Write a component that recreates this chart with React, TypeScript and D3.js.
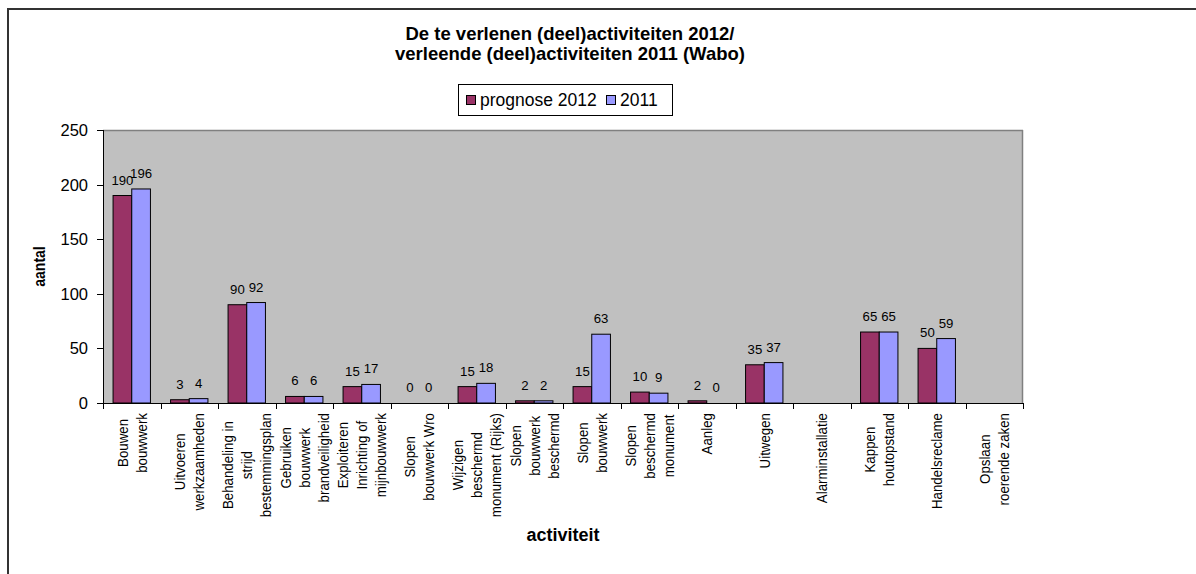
import React, { useMemo } from "react";
import * as d3 from "d3";

const categories: string[][] = [
  ["Bouwen", "bouwwerk"],
  ["Uitvoeren", "werkzaamheden"],
  ["Behandeling in", "strijd", "bestemmingsplan"],
  ["Gebruiken", "bouwwerk", "brandveiligheid"],
  ["Exploiteren", "Inrichting of", "mijnbouwwerk"],
  ["Slopen", "bouwwerk Wro"],
  ["Wijzigen", "beschermd", "monument (Rijks)"],
  ["Slopen", "bouwwerk", "beschermd"],
  ["Slopen", "bouwwerk"],
  ["Slopen", "beschermd", "monument"],
  ["Aanleg"],
  ["Uitwegen"],
  ["Alarminstallatie"],
  ["Kappen", "houtopstand"],
  ["Handelsreclame"],
  ["Opslaan", "roerende zaken"],
];
const prognose2012: (number | null)[] = [190, 3, 90, 6, 15, 0, 15, 2, 15, 10, 2, 35, null, 65, 50, null];
const values2011: (number | null)[] = [196, 4, 92, 6, 17, 0, 18, 2, 63, 9, 0, 37, null, 65, 59, null];
const seriesNames = ["prognose 2012", "2011"];
const seriesColors = ["#993366", "#9999FF"];
const yTicks = [0, 50, 100, 150, 200, 250];
const titleLines = ["De te verlenen (deel)activiteiten 2012/", "verleende (deel)activiteiten 2011 (Wabo)"];

const W = 1196;
const H = 574;
const FONT = "'Liberation Sans', Arial, sans-serif";

export default function App() {
  const plot = { left: 103, right: 1023, top: 130, bottom: 403 };
  const x0 = d3
    .scaleBand<number>()
    .domain(categories.map((_, i) => i))
    .range([plot.left, plot.right])
    .paddingInner(0.35)
    .paddingOuter(0.175);
  const x1 = d3.scaleBand<number>().domain([0, 1]).range([0, x0.bandwidth()]);
  const y = d3.scaleLinear().domain([0, 250]).range([plot.bottom, plot.top]);
  const step = x0.step();

  const catFont = 13.3;
  const measure = useMemo(() => {
    const c = document.createElement("canvas").getContext("2d")!;
    c.font = `${catFont}px ${FONT}`;
    return (s: string) => c.measureText(s).width;
  }, []);

  const series = [prognose2012, values2011];
  const lineGap = 19;

  return (
    <svg
      width={W}
      height={H}
      style={{ position: "absolute", left: 0, top: 0, background: "#fff" }}
      fontFamily={FONT}
    >
      {/* outer chart frame */}
      <rect x={8} y={9} width={1400} height={800} fill="#fff" stroke="#333" strokeWidth={2} />

      {/* title */}
      {titleLines.map((t, i) => (
        <text key={i} x={570} y={40 + i * 19.5} textAnchor="middle" fontWeight="bold" fontSize={18.5} fill="#000">
          {t}
        </text>
      ))}

      {/* legend */}
      <g>
        <rect x={458.5} y={84.5} width={214} height={31} fill="#fff" stroke="#000" strokeWidth={1} />
        {seriesNames.map((n, i) => {
          const lx = i === 0 ? 466 : 606;
          return (
            <g key={n}>
              <rect x={lx + 0.5} y={95.5} width={9} height={9} fill={seriesColors[i]} stroke="#000" strokeWidth={1} />
              <text x={lx + 14} y={106} fontSize={17.5} fill="#000">
                {n}
              </text>
            </g>
          );
        })}
      </g>

      {/* plot area */}
      <rect x={plot.left} y={plot.top} width={plot.right - plot.left} height={plot.bottom - plot.top} fill="#C0C0C0" />
      <line x1={plot.left} x2={plot.right} y1={plot.top + 0.5} y2={plot.top + 0.5} stroke="#808080" strokeWidth={1.5} />
      <line x1={plot.right - 0.5} x2={plot.right - 0.5} y1={plot.top} y2={plot.bottom} stroke="#808080" strokeWidth={1.5} />

      {/* bars */}
      {categories.map((_, ci) =>
        series.map((s, si) => {
          const v = s[ci];
          if (v === null) return null;
          const bx = (x0(ci) as number) + (x1(si) as number);
          const bw = x1.bandwidth();
          return (
            <rect
              key={`${ci}-${si}`}
              x={bx}
              y={y(v)}
              width={bw}
              height={y(0) - y(v)}
              fill={seriesColors[si]}
              stroke="#000"
              strokeWidth={1}
            />
          );
        })
      )}

      {/* data labels */}
      {categories.map((_, ci) =>
        series.map((s, si) => {
          const v = s[ci];
          if (v === null) return null;
          const cx = (x0(ci) as number) + (x1(si) as number) + x1.bandwidth() / 2;
          return (
            <text key={`l${ci}-${si}`} x={cx} y={y(v) - 11} textAnchor="middle" fontSize={13.2} fill="#000">
              {v}
            </text>
          );
        })
      )}

      {/* y axis */}
      <line x1={plot.left + 0.5} x2={plot.left + 0.5} y1={plot.top} y2={plot.bottom} stroke="#000" strokeWidth={1} />
      {yTicks.map((t) => (
        <g key={t}>
          <line x1={plot.left - 6} x2={plot.left} y1={Math.round(y(t)) + 0.5} y2={Math.round(y(t)) + 0.5} stroke="#000" />
          <text x={88} y={y(t)} dy="0.36em" textAnchor="end" fontSize={16.5} fill="#000">
            {t}
          </text>
        </g>
      ))}

      {/* x axis */}
      <line x1={plot.left} x2={plot.right} y1={plot.bottom + 0.5} y2={plot.bottom + 0.5} stroke="#000" strokeWidth={1} />
      {d3.range(categories.length + 1).map((i) => {
        const tx = Math.round(plot.left + i * step) + 0.5;
        return <line key={i} x1={tx} x2={tx} y1={plot.bottom} y2={plot.bottom + 6} stroke="#000" />;
      })}

      {/* category labels */}
      {categories.map((lines, ci) => {
        const cx = (x0(ci) as number) + x0.bandwidth() / 2;
        const maxLen = d3.max(lines, (l) => measure(l)) as number;
        const cy = 413 + maxLen / 2;
        return lines.map((l, li) => {
          const lx = cx + (li - (lines.length - 1) / 2) * lineGap;
          return (
            <text
              key={`c${ci}-${li}`}
              transform={`translate(${lx},${cy}) rotate(-90) scale(1,1.12)`}
              textAnchor="middle"
              dy="0.36em"
              fontSize={catFont}
              fill="#000"
            >
              {l}
            </text>
          );
        });
      })}

      {/* axis titles */}
      <text x={(plot.left + plot.right) / 2} y={541} textAnchor="middle" fontWeight="bold" fontSize={18} fill="#000">
        activiteit
      </text>
      <text
        transform={`translate(39,${(plot.top + plot.bottom) / 2}) rotate(-90) scale(1,1.15)`}
        textAnchor="middle"
        dy="0.36em"
        fontWeight="bold"
        fontSize={14}
        fill="#000"
      >
        aantal
      </text>
    </svg>
  );
}
